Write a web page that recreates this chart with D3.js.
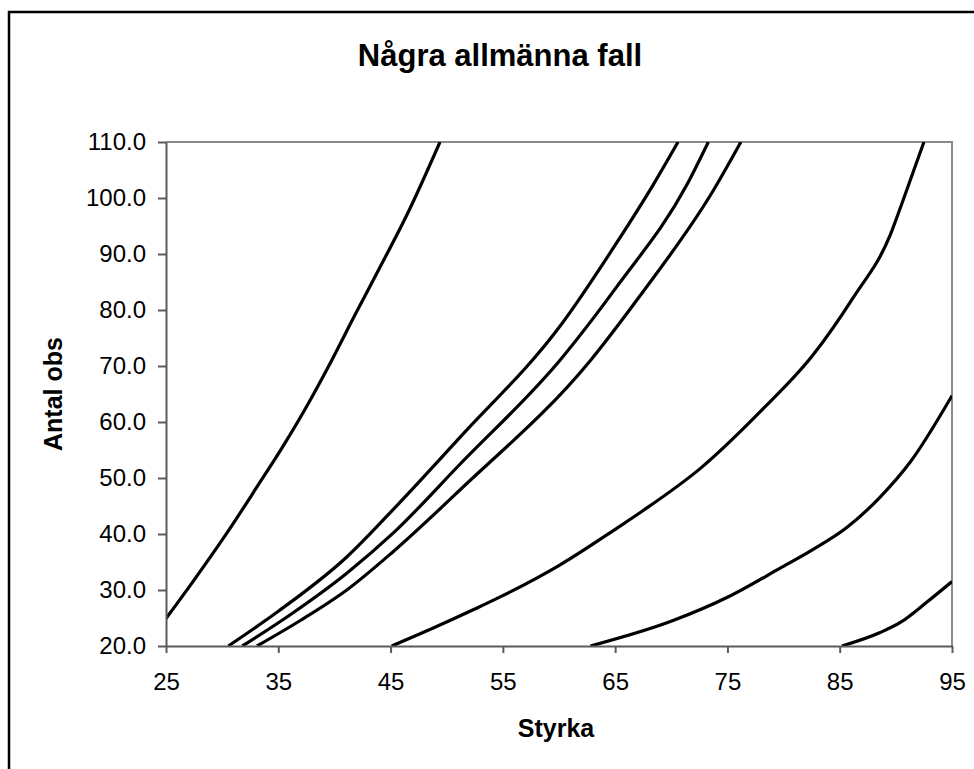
<!DOCTYPE html>
<html lang="sv">
  <head>
    <meta charset="utf-8" />
    <title>Några allmänna fall</title>
    <script src="https://cdn.jsdelivr.net/npm/d3@7"></script>
    <style>
      body { margin: 0; background: #fff; }
      svg text { font-family: "Liberation Sans", Arial, sans-serif; fill: #000; }
      .axis path, .axis line { stroke: #5a5a5a; stroke-width: 2; }
      .axis text { font-size: 24px; }
      .curve { fill: none; stroke: #000; stroke-width: 3.2; stroke-linejoin: round; }
    </style>
  </head>
  <body>
    <div id="chart"></div>
    <script>
      // tick values
      var xTicks = [25, 35, 45, 55, 65, 75, 85, 95];
      var yTicks = [20, 30, 40, 50, 60, 70, 80, 90, 100, 110];

      // curves: [styrka, antal obs]
      var curve1 = [[25, 24.9], [27.4, 31.5], [30.4, 40.1], [33.1, 48.4], [35.4, 55.6], [37.7, 63.4], [39.6, 70.4], [41.8, 79.0], [44.1, 87.8], [46.6, 97.6], [49.4, 110]];
      var curve2 = [[30.55, 20], [35, 26.2], [41.1, 35.9], [45.2, 44.3], [51.2, 57.3], [60.2, 77.4], [65.2, 92.2], [68.4, 102.4], [70.6, 110]];
      var curve3 = [[31.8, 20], [36, 25.5], [41.1, 33.0], [45.2, 40.1], [51.2, 52.5], [60.2, 71.3], [65.2, 84.3], [71.4, 102.4], [73.3, 110]];
      var curve4 = [[33.1, 20], [37, 24.6], [41.1, 30.0], [45.2, 36.8], [51.2, 47.9], [62.8, 71.0], [67.2, 82.5], [73.7, 101.2], [76.2, 110]];
      var curve5 = [[45.1, 20], [48.9, 23.3], [52.5, 26.6], [54.9, 28.9], [60.1, 34.5], [65.2, 41.1], [67.5, 44.2], [72.7, 51.9], [77.9, 61.8], [82.6, 71.9], [86.2, 82.2], [89.5, 93.4], [90.5, 98.8], [92.5, 110]];
      var curve6 = [[62.8, 20], [70.1, 24.5], [75.0, 28.7], [79.7, 33.9], [82.6, 37.2], [85.6, 41.1], [88.6, 46.6], [91.3, 52.9], [95, 64.7]];
      var curve7 = [[85.2, 20], [88.6, 22.4], [90.4, 24.2], [92.8, 27.9], [95, 31.5]];
      var curves = [curve1, curve2, curve3, curve4, curve5, curve6, curve7];

      var width = 974, height = 769;
      var margin = { top: 142, right: 22, bottom: 123, left: 166 };
      var plotW = width - margin.left - margin.right;
      var plotH = height - margin.top - margin.bottom;

      var svg = d3.select("#chart").append("svg")
        .attr("width", width)
        .attr("height", height);

      // outer chart frame (runs off the right and bottom)
      svg.append("rect")
        .attr("x", 9).attr("y", 12)
        .attr("width", 1000).attr("height", 800)
        .attr("fill", "none")
        .attr("stroke", "#000")
        .attr("stroke-width", 2.5);

      svg.append("text")
        .attr("x", 500).attr("y", 66)
        .attr("text-anchor", "middle")
        .style("font-size", "31px")
        .style("font-weight", "bold")
        .text("Några allmänna fall");

      var g = svg.append("g")
        .attr("transform", "translate(" + margin.left + "," + margin.top + ")");

      var x = d3.scaleLinear().domain([25, 95]).range([0, plotW]);
      var y = d3.scaleLinear().domain([20, 110]).range([plotH, 0]);

      // plot area border, top and right
      g.append("path")
        .attr("d", "M0,0H" + plotW + "V" + plotH)
        .attr("fill", "none")
        .attr("stroke", "#8a8a8a")
        .attr("stroke-width", 2);

      svg.append("clipPath").attr("id", "plot-clip")
        .append("rect")
        .attr("x", 0).attr("y", 0)
        .attr("width", plotW).attr("height", plotH);

      var line = d3.line()
        .curve(d3.curveMonotoneX)
        .x(function (d) { return x(d[0]); })
        .y(function (d) { return y(d[1]); });

      g.append("g")
        .attr("clip-path", "url(#plot-clip)")
        .selectAll("path")
        .data(curves)
        .enter()
        .append("path")
        .attr("class", "curve")
        .attr("d", line);

      g.append("g")
        .attr("class", "axis")
        .call(d3.axisLeft(y).tickValues(yTicks).tickFormat(d3.format(".1f"))
          .tickSize(8).tickPadding(12).tickSizeOuter(0));

      g.append("g")
        .attr("class", "axis")
        .attr("transform", "translate(0," + plotH + ")")
        .call(d3.axisBottom(x).tickValues(xTicks).tickFormat(d3.format("d"))
          .tickSize(7).tickPadding(20).tickSizeOuter(0));

      svg.selectAll(".axis text").attr("fill", "#000");

      svg.append("text")
        .attr("x", 556).attr("y", 737)
        .attr("text-anchor", "middle")
        .style("font-size", "25px")
        .style("font-weight", "bold")
        .text("Styrka");

      svg.append("text")
        .attr("transform", "translate(62," + (margin.top + plotH / 2) + ") rotate(-90)")
        .attr("text-anchor", "middle")
        .style("font-size", "25px")
        .style("font-weight", "bold")
        .text("Antal obs");
    </script>
  </body>
</html>
